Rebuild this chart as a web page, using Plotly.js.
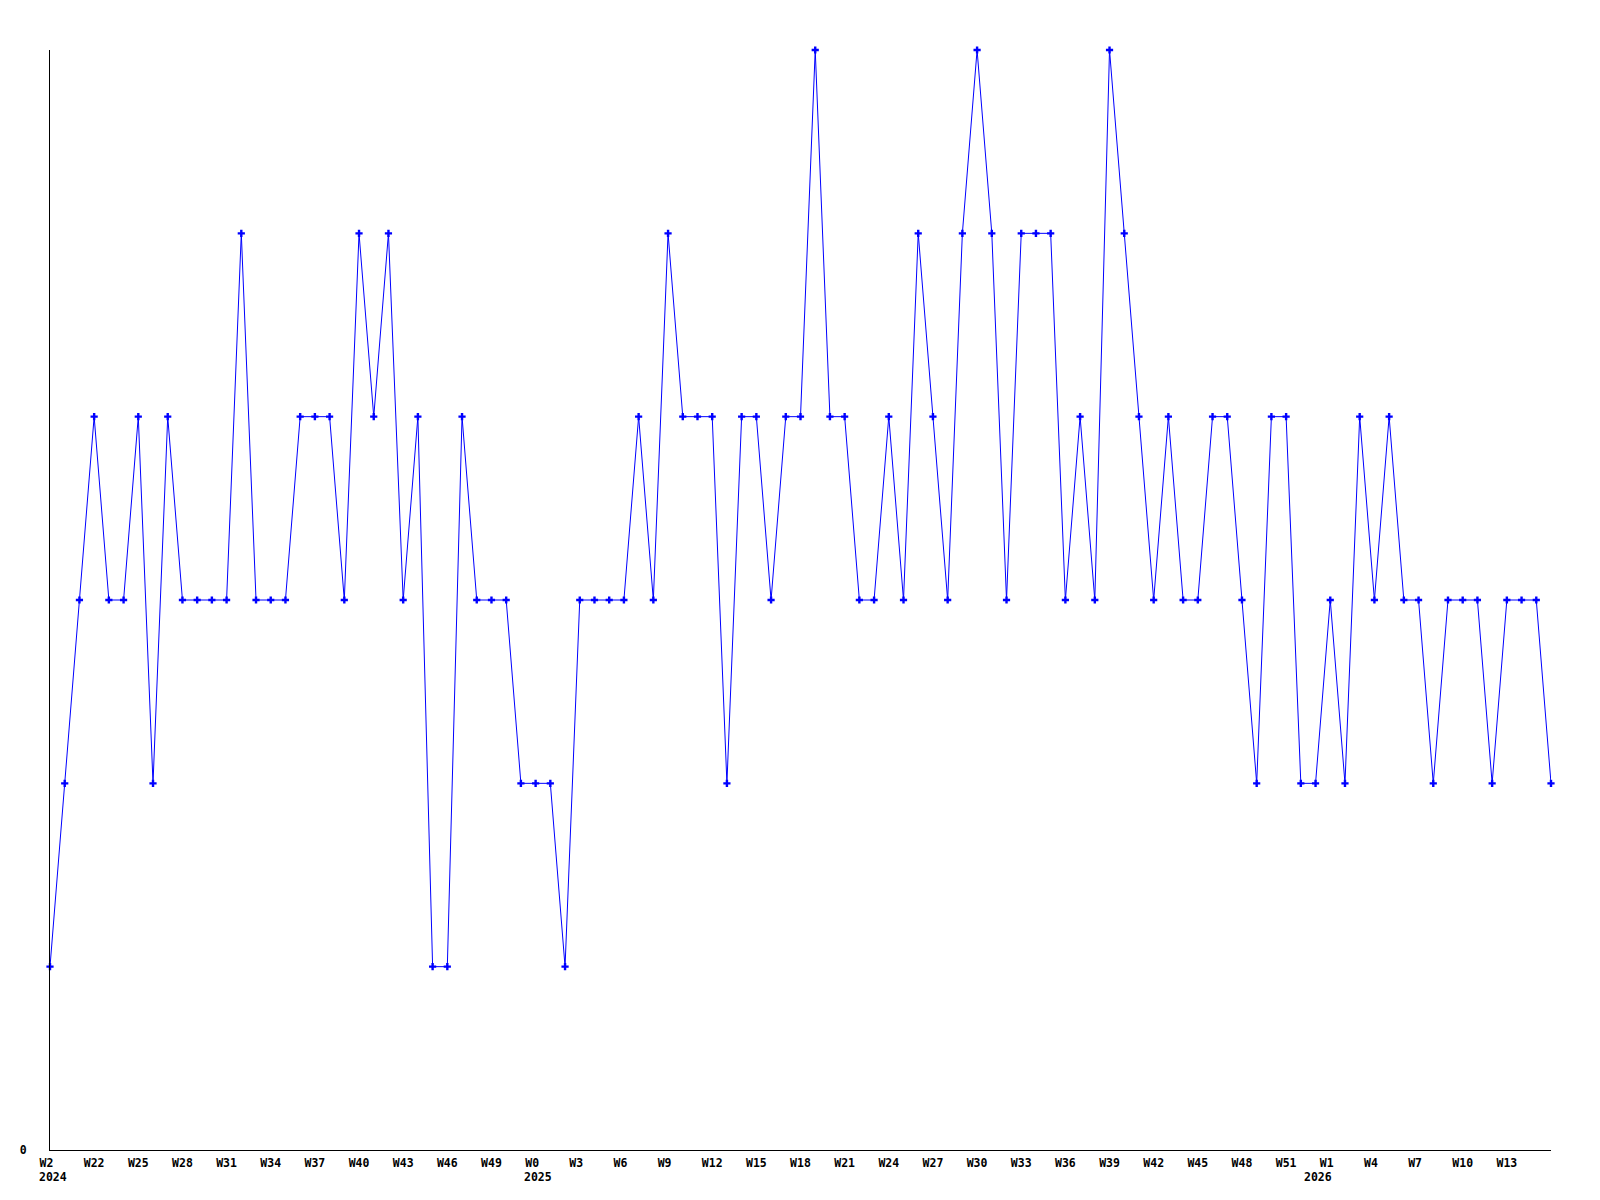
<!DOCTYPE html>
<html>
<head>
<meta charset="utf-8">
<script src="https://cdn.plot.ly/plotly-3.0.1.min.js"></script>
<style>html,body{margin:0;padding:0;background:#fff;}#chart{width:1600px;height:1200px;}</style>
</head>
<body>
<div id="chart"></div>
<script>
// Week categories (one per data point)
const weeks = [
  "2024-W19","2024-W20","2024-W21","2024-W22","2024-W23","2024-W24","2024-W25","2024-W26","2024-W27","2024-W28",
  "2024-W29","2024-W30","2024-W31","2024-W32","2024-W33","2024-W34","2024-W35","2024-W36","2024-W37","2024-W38",
  "2024-W39","2024-W40","2024-W41","2024-W42","2024-W43","2024-W44","2024-W45","2024-W46","2024-W47","2024-W48",
  "2024-W49","2024-W50","2024-W51",
  "2025-W0","2025-W1","2025-W2","2025-W3","2025-W4","2025-W5","2025-W6","2025-W7","2025-W8","2025-W9",
  "2025-W10","2025-W11","2025-W12","2025-W13","2025-W14","2025-W15","2025-W16","2025-W17","2025-W18","2025-W19",
  "2025-W20","2025-W21","2025-W22","2025-W23","2025-W24","2025-W25","2025-W26","2025-W27","2025-W28","2025-W29",
  "2025-W30","2025-W31","2025-W32","2025-W33","2025-W34","2025-W35","2025-W36","2025-W37","2025-W38","2025-W39",
  "2025-W40","2025-W41","2025-W42","2025-W43","2025-W44","2025-W45","2025-W46","2025-W47","2025-W48","2025-W49",
  "2025-W50","2025-W51","2025-W52",
  "2026-W0","2026-W1","2026-W2","2026-W3","2026-W4","2026-W5","2026-W6","2026-W7","2026-W8","2026-W9",
  "2026-W10","2026-W11","2026-W12","2026-W13","2026-W14","2026-W15","2026-W16"
];

// Series values
const values = [
  1,2,3,4,3,3,4,2,4,3,
  3,3,3,5,3,3,3,4,4,4,
  3,5,4,5,3,4,1,1,4,3,
  3,3,2,2,2,1,3,3,3,3,
  4,3,5,4,4,4,2,4,4,3,
  4,4,6,4,4,3,3,4,3,5,
  4,3,5,6,5,3,5,5,5,3,
  4,3,6,5,4,3,4,3,3,4,
  4,3,2,4,4,2,2,3,2,4,
  3,4,3,3,2,3,3,3,2,3,
  3,3,2
];

// X tick positions and labels
const tickWeeks = [
  "2024-W19","2024-W22","2024-W25","2024-W28","2024-W31","2024-W34","2024-W37","2024-W40","2024-W43","2024-W46","2024-W49",
  "2025-W0","2025-W3","2025-W6","2025-W9","2025-W12","2025-W15","2025-W18","2025-W21","2025-W24","2025-W27","2025-W30",
  "2025-W33","2025-W36","2025-W39","2025-W42","2025-W45","2025-W48","2025-W51",
  "2026-W1","2026-W4","2026-W7","2026-W10","2026-W13"
];
const tickLabels = [
  "W2","W22","W25","W28","W31","W34","W37","W40","W43","W46","W49",
  "W0","W3","W6","W9","W12","W15","W18","W21","W24","W27","W30",
  "W33","W36","W39","W42","W45","W48","W51",
  "W1","W4","W7","W10","W13"
];

// Year labels (placed at the first week of each year)
const yearWeeks = ["2024-W19","2025-W0","2026-W0"];
const yearLabels = ["2024","2025","2026"];

// Y ticks
const yTickVals = [0];
const yTickText = ["0"];

const FONT = {family: "DejaVu Sans Mono, monospace", size: 11.5, color: "#000", weight: "bold"};

// pad short labels so every label is 3 characters wide (left-aligned look)
const padded = tickLabels.map(t => t.length < 3 ? t + "\u00a0".repeat(3 - t.length) : t);

const trace = {
  type: "scatter",
  mode: "lines+markers",
  x: weeks,
  y: values,
  line: {color: "#0000ff", width: 1},
  marker: {color: "#0000ff", symbol: "cross", size: 6, line: {width: 0}},
  cliponaxis: false,
  hoverinfo: "x+y"
};

const annotations = yearWeeks.map((w, i) => ({
  xref: "x", yref: "paper",
  x: weeks.indexOf(w), y: 0,
  xanchor: "left", yanchor: "top",
  xshift: -13.5, yshift: -18,
  text: yearLabels[i],
  showarrow: false,
  font: FONT
}));

const layout = {
  width: 1600, height: 1200,
  margin: {l: 50, r: 49, t: 50, b: 50},
  paper_bgcolor: "#fff",
  plot_bgcolor: "#fff",
  showlegend: false,
  font: FONT,
  xaxis: {
    type: "category",
    categoryorder: "array",
    categoryarray: weeks,
    range: [0, weeks.length - 1],
    showgrid: false,
    zeroline: false,
    showline: true,
    linecolor: "#000",
    linewidth: 1,
    ticks: "",
    tickmode: "array",
    tickvals: tickWeeks,
    ticktext: padded,
    tickangle: 0,
    tickfont: FONT,
    ticklabelstandoff: 2
  },
  yaxis: {
    range: [0, 6],
    showgrid: false,
    zeroline: false,
    showline: true,
    linecolor: "#000",
    linewidth: 1,
    ticks: "",
    tickmode: "array",
    tickvals: yTickVals,
    ticktext: yTickText,
    tickfont: FONT,
    ticklabelstandoff: 20
  },
  annotations: annotations
};

Plotly.newPlot("chart", [trace], layout, {displayModeBar: false, staticPlot: true});
</script>
</body>
</html>
